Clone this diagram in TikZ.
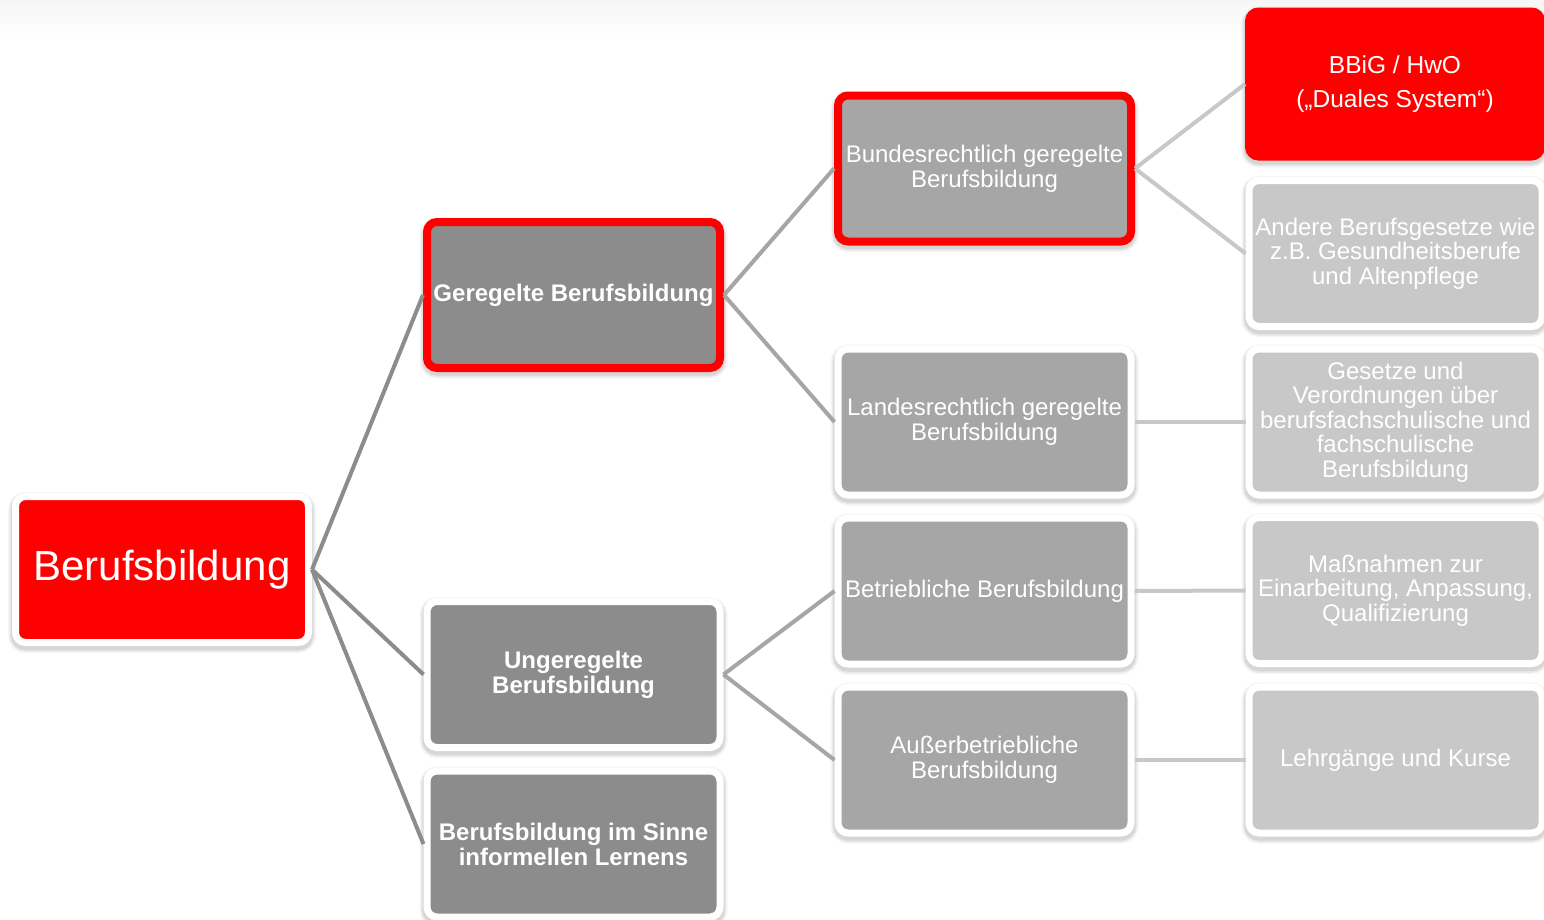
\documentclass[tikz,border=0pt]{standalone}
\usepackage{fontspec}
\setmainfont{Liberation Sans}
\usetikzlibrary{shadows}
\definecolor{redA}{HTML}{FF0000}
\definecolor{grayA}{HTML}{8C8C8C}
\definecolor{grayB}{HTML}{A6A6A6}
\definecolor{grayC}{HTML}{C8C8C8}
\definecolor{bgtop}{HTML}{F6F6F6}
\begin{document}
\begin{tikzpicture}[x=1pt,y=-1pt,
  softshadow/.style={
    general shadow={draw=black, fill=none, line width=9pt, opacity=0.07, shadow xshift=0pt, shadow yshift=-3pt},
    general shadow={draw=black, fill=none, line width=12pt, opacity=0.06, shadow xshift=0pt, shadow yshift=-3pt},
    general shadow={draw=black, fill=none, line width=15pt, opacity=0.04, shadow xshift=0pt, shadow yshift=-3pt}},
  box/.style={rounded corners=10pt, minimum width=293pt, minimum height=146pt,
    line width=7pt, draw=white, align=center, text=white, inner sep=0pt,
    font=\fontsize{24}{24.6}\selectfont, softshadow},
  redframe/.style={box, draw=redA, line width=8pt},
  lvlA/.style={draw=grayA, line width=4pt},
  lvlB/.style={draw=grayB, line width=4pt},
  lvlC/.style={draw=grayC, line width=4pt}]
\useasboundingbox (0,0) rectangle (1544,919);
\fill[white] (0,0) rectangle (1544,919);
\shade[top color=bgtop, bottom color=white] (0,0) rectangle (1544,42);

% column 1
\node[box, fill=redA, font=\fontsize{42}{44}\selectfont] (root) at (162,569.5) {Berufsbildung};

% column 2
\node[redframe, fill=grayA, font=\bfseries\fontsize{24}{25}\selectfont] (g1) at (573.5,295) {Geregelte Berufsbildung};
\node[box, fill=grayA, font=\bfseries\fontsize{24}{25}\selectfont] (g2) at (573.5,674.5) {Ungeregelte\\Berufsbildung};
\node[box, fill=grayA, font=\bfseries\fontsize{24}{25}\selectfont] (g3) at (573.5,844) {Berufsbildung im Sinne\\informellen Lernens};

% column 3
\node[redframe, fill=grayB] (b1) at (984.5,168.5) {Bundesrechtlich geregelte\\Berufsbildung};
\node[box, fill=grayB] (b2) at (984.5,422) {Landesrechtlich geregelte\\Berufsbildung};
\node[box, fill=grayB] (b3) at (984.5,591) {Betriebliche Berufsbildung};
\node[box, fill=grayB] (b4) at (984.5,760) {Außerbetriebliche\\Berufsbildung};

% column 4
\node[box, fill=redA, draw=redA, font=\fontsize{24.5}{34}\selectfont] (c1) at (1395,84) {BBiG / HwO\\(„Duales System“)};
\node[box, fill=grayC] (c2) at (1395.5,253.5) {Andere Berufsgesetze wie\\z.B. Gesundheitsberufe\\und Altenpflege};
\node[box, fill=grayC] (c3) at (1395.5,422) {Gesetze und\\Verordnungen über\\berufsfachschulische und\\fachschulische\\Berufsbildung};
\node[box, fill=grayC] (c4) at (1395.5,590.5) {Maßnahmen zur\\Einarbeitung, Anpassung,\\Qualifizierung};
\node[box, fill=grayC] (c5) at (1395.5,760) {Lehrgänge und Kurse};

% connectors
\draw[lvlA] (root.east) -- (g1.west);
\draw[lvlA] (root.east) -- (g2.west);
\draw[lvlA] (root.east) -- (g3.west);
\draw[lvlB] (g1.east) -- (b1.west);
\draw[lvlB] (g1.east) -- (b2.west);
\draw[lvlB] (g2.east) -- (b3.west);
\draw[lvlB] (g2.east) -- (b4.west);
\draw[lvlC] (b1.east) -- (c1.west);
\draw[lvlC] (b1.east) -- (c2.west);
\draw[lvlC] (b2.east) -- (c3.west);
\draw[lvlC] (b3.east) -- (c4.west);
\draw[lvlC] (b4.east) -- (c5.west);
\end{tikzpicture}
\end{document}
